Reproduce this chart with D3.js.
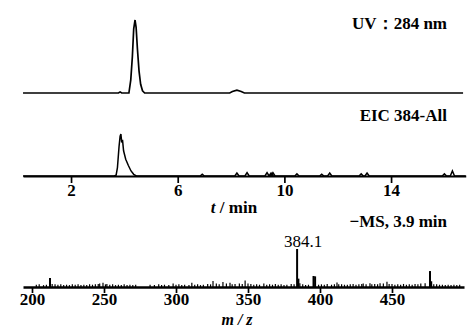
<!DOCTYPE html>
<html>
<head>
<meta charset="utf-8">
<script src="https://cdn.jsdelivr.net/npm/d3@7"></script>
<style>
  body { margin: 0; background: #fff; }
  svg { display: block; font-family: "Liberation Serif", "Times New Roman", serif; }
  .lbl { font-size: 17px; font-weight: bold; }
  .axis text { font-family: "Liberation Serif", serif; font-size: 17px; font-weight: bold; }
</style>
</head>
<body>
<div id="chart"></div>
<script>
// UV 284 nm trace: [t (min), relative intensity %]
const uvTrace = [
  [0.2, 0], [3.78, 0], [3.84, 1.5], [3.9, 0], [4.17, 0], [4.24, 18], [4.3, 50],
  [4.35, 88], [4.4, 100], [4.44, 90], [4.49, 60], [4.55, 30], [4.61, 12],
  [4.68, 3], [4.76, 0], [7.95, 0], [8.05, 2], [8.22, 4], [8.38, 2], [8.5, 0],
  [16.7, 0]
];

// EIC 384 main peak: [t, %]
const eicPeak = [
  [0.2, 0], [3.62, 0], [3.69, 2], [3.74, 20], [3.8, 70], [3.84, 95], [3.87, 100],
  [3.9, 80], [3.93, 86], [3.97, 60], [4.05, 40], [4.15, 25], [4.25, 12],
  [4.35, 4], [4.45, 0]
];
// EIC small noise bumps: [t, %]
const eicNoise = [
  [6.92, 4], [8.22, 7], [8.6, 8], [9.35, 8], [9.5, 7], [9.57, 8], [10.47, 5],
  [11.4, 4], [11.7, 7], [12.88, 5], [13.1, 7], [16.0, 5], [16.3, 12]
];
const timeTicks = [2, 6, 10, 14];

// -MS spectrum at 3.9 min: [m/z, %]
const msSticks = [
  [203, 6], [205, 7], [208, 5], [210, 6], [212.5, 24], [214, 8], [216, 7], [218, 6],
  [220, 7], [222, 5], [224, 6], [226, 5], [228, 7], [230, 6], [232, 7], [234, 5],
  [236, 6], [238, 5], [240, 7], [242, 6], [244, 7], [246, 8], [247, 9], [249.3, 11],
  [251, 7], [252, 8], [254, 6], [256, 7], [258, 5], [260, 6], [262, 5], [264, 7],
  [266, 5], [268, 6], [270, 5], [272, 6], [282, 6], [285, 5], [288, 7], [290, 5],
  [292, 6], [295, 5], [298, 9], [300, 6], [302, 7], [304, 5], [306, 6], [309, 5],
  [311, 11], [313, 6], [315, 7], [317, 5], [319, 6], [322, 8], [324, 7], [325.7, 16],
  [328, 9], [330, 7], [332.6, 13], [335, 9], [337.5, 11], [339, 7], [341, 8],
  [344, 9], [346, 8], [348, 17], [350, 9], [352, 8], [354, 6], [356, 7], [358, 6],
  [361, 9], [363, 6], [365, 7], [367, 6], [369, 8], [371, 6], [373, 7], [375, 5],
  [377, 6], [380, 8], [382, 7], [384.1, 100], [385, 22], [386, 10], [388, 7], [390, 5],
  [392, 6], [395.5, 29], [396.6, 28], [399, 6], [401, 7], [403, 6], [405, 8], [408, 6],
  [410, 7], [411.8, 12], [413, 7], [415, 7], [417, 6], [419, 6], [421, 7], [423, 8],
  [425, 6], [427, 7], [429, 8], [430, 9], [432, 7], [434.7, 10], [436, 7], [438, 8],
  [440, 7], [441.7, 10], [444, 9], [446.5, 14], [448, 8], [450, 8], [452, 6],
  [454, 7], [456, 6], [458, 8], [460, 6], [462, 7], [464, 6], [466, 8], [468, 7],
  [470, 9], [473, 10], [476.4, 42], [477.5, 15], [479, 7], [481, 7], [483, 6],
  [485, 6], [487, 5], [489, 6], [491, 5], [493, 6], [495, 5], [497, 6]
];
const mzTicks = [200, 250, 300, 350, 400, 450];
const baseMz = 384.1;

const width = 467, height = 332;

const svg = d3.select('#chart').append('svg')
  .attr('width', width)
  .attr('height', height);

const x = d3.scaleLinear().domain([0, 16]).range([17.7, 444.4]);
const yUV = d3.scaleLinear().domain([0, 100]).range([93, 20]);
const yEIC = d3.scaleLinear().domain([0, 100]).range([176, 134]);

const line = (ys) => d3.line().x(d => x(d[0])).y(d => ys(d[1]));

// UV trace
svg.append('path')
  .datum(uvTrace)
  .attr('d', line(yUV))
  .attr('fill', 'none')
  .attr('stroke', '#000')
  .attr('stroke-width', 1.7);

// EIC: main peak plus little bumps, joined into one trace
const eicPts = eicPeak.slice();
eicNoise.forEach(d => {
  eicPts.push([d[0] - 0.08, 0], d, [d[0] + 0.08, 0]);
});
eicPts.push([16.8, 0]);

svg.append('path')
  .datum(eicPts)
  .attr('d', line(yEIC))
  .attr('fill', 'none')
  .attr('stroke', '#000')
  .attr('stroke-width', 1.5);

// time axis
const xAxis = d3.axisBottom(x.copy().domain([0.2, 16.8]).range([x(0.2), x(16.8)]))
  .tickValues(timeTicks)
  .tickSize(7)
  .tickSizeOuter(0)
  .tickPadding(1);

const gx = svg.append('g')
  .attr('class', 'axis')
  .attr('transform', 'translate(0,176)')
  .call(xAxis);
gx.select('.domain').attr('stroke-width', 2);
gx.selectAll('.tick line').attr('stroke-width', 1.7);
gx.selectAll('.tick text').attr('fill', '#000');

// MS spectrum
const xm = d3.scaleLinear().domain([193.75, 500]).range([23, 464]);
const yMS = d3.scaleLinear().domain([0, 100]).range([287, 249]);

svg.append('g')
  .selectAll('line')
  .data(msSticks)
  .enter()
  .append('line')
  .attr('x1', d => xm(d[0]))
  .attr('x2', d => xm(d[0]))
  .attr('y1', yMS(0))
  .attr('y2', d => yMS(d[1]))
  .attr('stroke', '#000')
  .attr('stroke-width', d => d[1] > 20 ? 2 : 1.2);

const mAxis = d3.axisBottom(xm)
  .tickValues(mzTicks)
  .tickSize(6)
  .tickSizeOuter(0)
  .tickPadding(0);

const gm = svg.append('g')
  .attr('class', 'axis')
  .attr('transform', 'translate(0,287)')
  .call(mAxis);
gm.select('.domain').attr('stroke-width', 2.6);
gm.selectAll('.tick line').attr('stroke-width', 1.7);
gm.selectAll('.tick text').attr('fill', '#000');

// labels
svg.append('text').attr('class', 'lbl')
  .attr('x', 447).attr('y', 29).attr('text-anchor', 'end')
  .text('UV：284 nm');

svg.append('text').attr('class', 'lbl')
  .attr('x', 447).attr('y', 121).attr('text-anchor', 'end')
  .text('EIC 384-All');

svg.append('text').attr('class', 'lbl')
  .attr('x', 447).attr('y', 227).attr('text-anchor', 'end')
  .text('−MS, 3.9 min');

svg.append('text')
  .attr('x', xm(baseMz) + 6).attr('y', yMS(100) - 2)
  .attr('text-anchor', 'middle')
  .style('font-size', '17px')
  .text(baseMz.toFixed(1));

const tl = svg.append('text').attr('class', 'lbl')
  .attr('x', 234).attr('y', 213).attr('text-anchor', 'middle');
tl.append('tspan').style('font-style', 'italic').text('t');
tl.append('tspan').text(' / min');

svg.append('text').attr('class', 'lbl')
  .attr('x', 237).attr('y', 325).attr('text-anchor', 'middle')
  .style('font-size', '16px')
  .style('font-style', 'italic')
  .text('m / z');
</script>
</body>
</html>
